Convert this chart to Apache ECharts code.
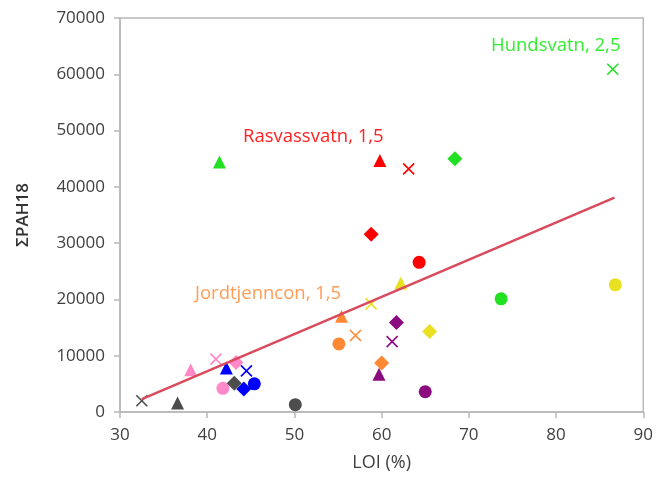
<!DOCTYPE html>
<html>
<head>
<meta charset="utf-8">
<script src="https://cdn.jsdelivr.net/npm/echarts@6/dist/echarts.min.js"></script>
<style>html,body{margin:0;padding:0;background:#fff;}#c{width:656px;height:477px;}</style>
</head>
<body>
<div id="c"></div>
<script>
// Marker shapes, in the order the values below are listed
var shapes = ['triangle', 'cross', 'diamond', 'circle'];

// LOI (%) and ΣPAH18 per lake (triangle, cross, diamond, circle)
var hundsvatnX   = [41.4, 86.5, 68.4, 73.7];
var hundsvatnY   = [44400, 60900, 45000, 20100];
var rasvassvatnX = [59.8, 63.1, 58.8, 64.3];
var rasvassvatnY = [44700, 43200, 31600, 26600];
var jordtjennX   = [55.4, 57.0, 60.0, 55.1];
var jordtjennY   = [17000, 13600, 8700, 12100];
var yellowX      = [62.2, 58.8, 65.5, 86.8];
var yellowY      = [22900, 19200, 14300, 22600];
var purpleX      = [59.7, 61.2, 61.7, 65.0];
var purpleY      = [6700, 12500, 15900, 3600];
var pinkX        = [38.1, 41.0, 43.3, 41.8];
var pinkY        = [7500, 9400, 8800, 4200];
var blueX        = [42.2, 44.5, 44.2, 45.4];
var blueY        = [7800, 7300, 4100, 5000];
var grayX        = [36.6, 32.5, 43.1, 50.1];
var grayY        = [1600, 2000, 5100, 1300];

// Trend line endpoints
var trendX = [32.5, 86.7];
var trendY = [2300, 38100];

// Axis ticks
var xTicks = [30, 40, 50, 60, 70, 80, 90];
var yTicks = [0, 10000, 20000, 30000, 40000, 50000, 60000, 70000];

var lakes = [
  {name: 'Hundsvatn',    x: hundsvatnX,   y: hundsvatnY,   color: '#22e022'},
  {name: 'Rasvassvatn',  x: rasvassvatnX, y: rasvassvatnY, color: '#ff0000'},
  {name: 'Jordtjenncon', x: jordtjennX,   y: jordtjennY,   color: '#ff8833'},
  {name: 'Yellow',       x: yellowX,      y: yellowY,      color: '#e8e020'},
  {name: 'Purple',       x: purpleX,      y: purpleY,      color: '#8b0a80'},
  {name: 'Pink',         x: pinkX,        y: pinkY,        color: '#ff88c8'},
  {name: 'Blue',         x: blueX,        y: blueY,        color: '#0000ff'},
  {name: 'Gray',         x: grayX,        y: grayY,        color: '#4d4d4d'}
];

var crossPath = 'path://M0,0L10,10M10,0L0,10';
var font = '"Segoe UI", "Open Sans", "Noto Sans", sans-serif';

var series = lakes.map(function (lake) {
  return {
    type: 'scatter',
    name: lake.name,
    z: 2,
    data: lake.x.map(function (xv, i) {
      var s = shapes[i];
      var item = {value: [xv, lake.y[i]]};
      if (s === 'cross') {
        item.symbol = crossPath;
        item.symbolSize = 11;
        item.itemStyle = {color: 'rgba(0,0,0,0)', borderColor: lake.color, borderWidth: 1.6, opacity: 1};
      } else if (s === 'triangle') {
        item.symbol = 'triangle';
        item.symbolSize = 13;
        item.itemStyle = {color: lake.color, opacity: 1};
      } else if (s === 'diamond') {
        item.symbol = 'diamond';
        item.symbolSize = 15;
        item.itemStyle = {color: lake.color, opacity: 1};
      } else {
        item.symbol = 'circle';
        item.symbolSize = 13;
        item.itemStyle = {color: lake.color, opacity: 1};
      }
      return item;
    })
  };
});

series.push({
  type: 'line',
  name: 'trend',
  z: 5,
  symbol: 'none',
  silent: true,
  lineStyle: {color: '#d84a5c', width: 2.5},
  data: trendX.map(function (xv, i) { return [xv, trendY[i]]; })
});

var chart = echarts.init(document.getElementById('c'), null, {renderer: 'canvas'});
chart.setOption({
  animation: false,
  backgroundColor: '#ffffff',
  grid: {left: 120, top: 18, right: 10, bottom: 64, show: true, borderColor: '#b8b8b8', borderWidth: 1.5, backgroundColor: 'transparent'},
  xAxis: {
    type: 'value', min: xTicks[0], max: xTicks[xTicks.length - 1], interval: 10,
    name: 'LOI (%)', nameLocation: 'middle', nameGap: 42,
    nameTextStyle: {fontFamily: font, fontSize: 18, color: '#404040'},
    axisLine: {show: true, lineStyle: {color: '#b8b8b8', width: 1.5}},
    axisTick: {show: true, length: 6, lineStyle: {color: '#b8b8b8', width: 1.5}},
    axisLabel: {fontFamily: font, fontSize: 17, color: '#404040', margin: 15},
    splitLine: {show: false}
  },
  yAxis: {
    type: 'value', min: yTicks[0], max: yTicks[yTicks.length - 1], interval: 10000,
    name: 'ΣPAH18', nameLocation: 'middle', nameGap: 88,
    nameTextStyle: {fontFamily: font, fontSize: 17, color: '#333333', fontWeight: 600},
    axisLine: {show: true, lineStyle: {color: '#b8b8b8', width: 1.5}},
    axisTick: {show: true, length: 6, lineStyle: {color: '#b8b8b8', width: 1.5}},
    axisLabel: {fontFamily: font, fontSize: 17, color: '#404040', margin: 15,
      formatter: function (v) { return String(v); }},
    splitLine: {show: false}
  },
  graphic: [
    {type: 'text', left: 491, top: 36, z: 10, style: {text: 'Hundsvatn, 2,5', fill: '#33ee33', font: '18.5px ' + font}},
    {type: 'text', left: 243, top: 127, z: 10, style: {text: 'Rasvassvatn, 1,5', fill: '#ff2020', font: '18.5px ' + font}},
    {type: 'text', left: 195, top: 284, z: 10, style: {text: 'Jordtjenncon, 1,5', fill: '#ff9c55', font: '18.5px ' + font}}
  ],
  series: series
});
</script>
</body>
</html>
